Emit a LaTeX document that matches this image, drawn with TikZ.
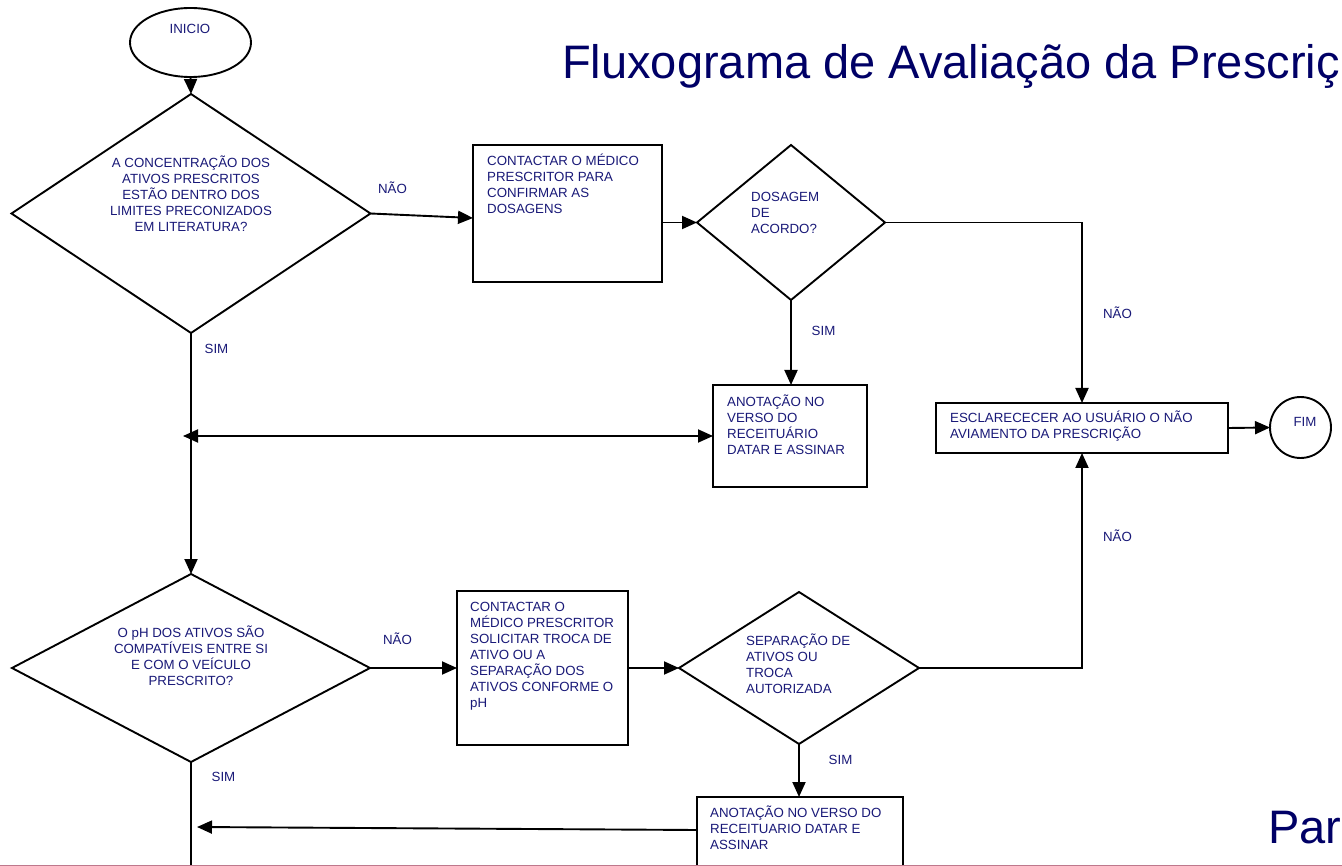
\documentclass[tikz,border=0pt]{standalone}
\usepackage{fontspec}
\setmainfont{Liberation Sans}
\usetikzlibrary{shapes.geometric,arrows.meta}
\definecolor{txt}{RGB}{25,25,120}
\definecolor{ttl}{RGB}{0,0,102}
\definecolor{rulec}{RGB}{190,120,140}
\begin{document}
\begin{tikzpicture}[x=1pt,y=-1pt,
  shp/.style={draw=black, line width=1.9pt, inner sep=0pt, outer sep=0pt},
  dia/.style={shp, diamond},
  term/.style={shp, ellipse},
  proc/.style={shp, rectangle},
  conn/.style={line width=1.9pt, -{Triangle[length=15pt,width=13pt]}},
  dconn/.style={line width=1.9pt, {Triangle[length=15pt,width=13pt]}-{Triangle[length=15pt,width=13pt]}},
  plain/.style={line width=1.9pt},
  txtc/.style={text=txt, font=\fontsize{13.3}{16}\selectfont, inner sep=0pt, align=center, anchor=base},
  txtl/.style={text=txt, font=\fontsize{13.3}{16}\selectfont, inner sep=0pt, align=left, anchor=base west},
  big/.style={text=ttl, font=\fontsize{47}{56}\selectfont, inner sep=0pt, anchor=base west}
]
\clip (0,0) rectangle (1342,866);
\fill[white] (0,0) rectangle (1342,866);

% title
\node[big] (title) at (562,79) {Fluxograma de Avaliação da Prescriç};
\node[big] (par) at (1268,843) {Par};

% shapes (multi-line texts are anchored at the baseline of their last line)
\node[term, minimum width=121pt, minimum height=69pt] (start) at (190.5,42.5) {};
\node[txtc] (startt) at (190,34) {INICIO};

\node[dia, minimum width=359pt, minimum height=239pt] (d1) at (191,213.5) {};
\node[txtc] (d1t) at (191,232) {A CONCENTRAÇÃO DOS\\ATIVOS PRESCRITOS\\ESTÃO DENTRO DOS\\LIMITES PRECONIZADOS\\EM LITERATURA?};

\node[proc, minimum width=189pt, minimum height=137pt] (box1) at (567.5,213.5) {};
\node[txtl] (box1t) at (487,213.75) {CONTACTAR O MÉDICO\\PRESCRITOR PARA\\CONFIRMAR AS\\DOSAGENS};

\node[dia, minimum width=188pt, minimum height=155pt] (d2) at (791,222.5) {};
\node[txtl] (d2t) at (751,233.75) {DOSAGEM\\DE\\ACORDO?};

\node[proc, minimum width=154pt, minimum height=102pt] (box2) at (790,436) {};
\node[txtl] (box2t) at (727,454.75) {ANOTAÇÃO NO\\VERSO DO\\RECEITUÁRIO\\DATAR E ASSINAR};

\node[proc, minimum width=292pt, minimum height=50pt] (box3) at (1082,428) {};
\node[txtl] (box3t) at (950,438.75) {ESCLARECECER AO USUÁRIO O NÃO\\AVIAMENTO DA PRESCRIÇÃO};

\node[term, minimum width=61pt, minimum height=61pt] (fim) at (1300.5,427.5) {};
\node[txtc] (fimt) at (1305,426.75) {FIM};

\node[dia, minimum width=358pt, minimum height=188pt] (d3) at (191,668) {};
\node[txtc] (d3t) at (191,685.75) {O pH DOS ATIVOS SÃO\\COMPATÍVEIS ENTRE SI\\E COM O VEÍCULO\\PRESCRITO?};

\node[proc, minimum width=171pt, minimum height=154pt] (box4) at (542.5,668) {};
\node[txtl] (box4t) at (470,707.75) {CONTACTAR O\\MÉDICO PRESCRITOR\\SOLICITAR TROCA DE\\ATIVO OU A\\SEPARAÇÃO DOS\\ATIVOS CONFORME O\\pH};

\node[dia, minimum width=240pt, minimum height=152pt] (d4) at (799,668) {};
\node[txtl] (d4t) at (746,693.75) {SEPARAÇÃO DE\\ATIVOS OU\\TROCA\\AUTORIZADA};

\node[proc, minimum width=206pt, minimum height=90pt] (box5) at (800,842) {};
\node[txtl] (box5t) at (710,849.75) {ANOTAÇÃO NO VERSO DO\\RECEITUARIO DATAR E\\ASSINAR};

% labels
\node[txtc] (l1) at (392.5,193.75) {NÃO};
\node[txtc] (l2) at (823.5,335.75) {SIM};
\node[txtc] (l3) at (216.5,353.75) {SIM};
\node[txtc] (l4) at (1117.5,318.75) {NÃO};
\node[txtc] (l5) at (1117.5,541.75) {NÃO};
\node[txtc] (l6) at (397.5,644.75) {NÃO};
\node[txtc] (l7) at (840.5,764.75) {SIM};
\node[txtc] (l8) at (223.5,781.75) {SIM};

% free ends
\coordinate (j1) at (183,436);
\coordinate (j2) at (197,827);
\coordinate (bot) at (191,870);

% connectors
\draw[conn] (start.south) -- (d1.north);
\draw[conn] (d1.east) -- ([yshift=-4.5pt]box1.west);
\draw[conn] (box1.east |- d2.west) -- (d2.west);
\draw[conn] (d2.south) -- (d2.south |- box2.north);
\draw[conn] (d2.east) -| (box3.north);
\draw[conn] (box3.east) -- (fim.west);
\draw[dconn] (j1) -- (box2.west);
\draw[conn] (d1.south) -- (d3.north);
\draw[conn] (d3.east) -- (box4.west);
\draw[conn] (box4.east) -- (d4.west);
\draw[conn] (d4.east) -| (box3.south);
\draw[conn] (d4.south) -- (d4.south |- box5.north);
\draw[conn] ([yshift=12pt]box5.west) -- (j2);
\draw[plain] (d3.south) -- (bot);

% bottom rule
\draw[rulec, line width=1.5pt] (0,865.3) -- (1342,865.3);
\end{tikzpicture}
\end{document}
